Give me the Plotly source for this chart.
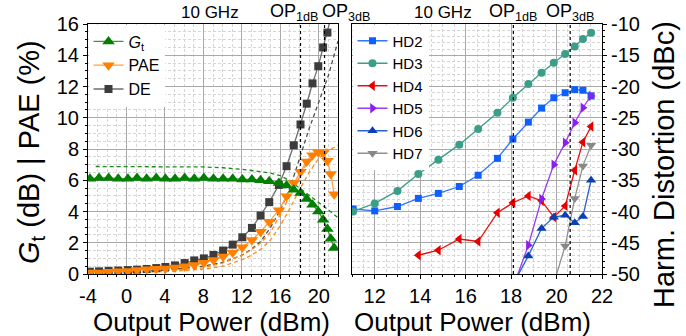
import plotly.graph_objects as go

# ---------------- data (left panel) ----------------
pout = [-3.8, -2.85, -1.85, -0.85, 0.15, 1.1, 2.1, 3.1, 4.05, 5.05, 6.05, 7.05, 8.05, 9.05, 10.05,
        11.05, 12.05, 13.05, 13.95, 14.85, 15.85, 16.65, 17.4, 18.1, 18.75, 19.35, 19.95, 20.45,
        20.9, 21.25, 21.6]
gt = [6.1, 6.15, 6.15, 6.1, 6.1, 6.15, 6.1, 6.15, 6.1, 6.1, 6.15, 6.1, 6.15, 6.1, 6.1,
      6.1, 6.05, 6.05, 6.0, 5.94, 5.83, 5.66, 5.4, 5.19, 4.8, 4.44, 4.0, 3.48, 2.88, 2.26, 1.67]
pae = [0.1, 0.1, 0.15, 0.18, 0.2, 0.25, 0.3, 0.33, 0.36, 0.42, 0.49, 0.57, 0.72, 0.9, 1.12,
       1.38, 1.72, 2.18, 2.7, 3.35, 4.08, 4.97, 5.83, 6.55, 7.2, 7.6, 7.8, 7.75, 7.25, 6.4, 5.1]
de = [0.15, 0.17, 0.2, 0.22, 0.25, 0.28, 0.32, 0.38, 0.45, 0.55, 0.7, 0.87, 1.0, 1.22, 1.5,
      1.88, 2.35, 2.95, 3.74, 4.6, 5.7, 6.9, 8.24, 9.57, 10.9, 12.2, 13.3, 14.5, 15.45, 16.4, 17.2]

# simulated curves (dashed)
gt_sim_x = [-3.2, 0, 4, 8, 10, 12, 14, 15, 16, 17, 18, 19, 20, 21, 22]
gt_sim_y = [6.88, 6.88, 6.87, 6.85, 6.8, 6.7, 6.55, 6.45, 6.3, 5.95, 5.5, 5.05, 4.55, 4.1, 3.6]
de_sim_x = [-4, 4, 8, 10, 12, 13, 14, 15, 16, 17, 18, 19, 20, 21, 22]
de_sim_y = [0.1, 0.25, 0.5, 0.75, 1.2, 1.6, 2.1, 3.0, 4.1, 5.5, 7.4, 9.3, 11.0, 12.7, 14.9]
pae_sim1_x = [-4, 4, 8, 10, 12, 13, 14, 15, 16, 17, 18, 19, 20, 21]
pae_sim1_y = [0.05, 0.2, 0.4, 0.7, 1.2, 1.55, 2.0, 2.7, 3.8, 5.0, 6.3, 7.4, 7.9, 8.0]
pae_sim2_x = [-4, 4, 8, 10, 12, 13, 14, 15, 16, 17, 18, 19, 20, 21, 22]
pae_sim2_y = [0.05, 0.15, 0.3, 0.5, 0.9, 1.2, 1.6, 2.2, 3.1, 4.2, 5.4, 6.5, 7.4, 7.9, 8.25]

# ---------------- data (right panel) ----------------
hd_p = [11.05, 12.0, 13.0, 13.92, 14.8, 15.72, 16.55, 17.4, 18.08, 18.76, 19.34, 19.88,
        20.38, 20.8, 21.16, 21.52]
hd2 = [-39.6, -39.9, -39.2, -37.9, -37.1, -36.0, -34.2, -31.5, -28.4, -25.7, -23.45, -21.8,
       -21.0, -20.5, -20.6, -21.5]
hd3 = [-40.0, -38.7, -36.7, -34.0, -31.7, -29.3, -26.8, -24.2, -21.8, -19.6, -17.8, -16.2,
       -14.8, -13.6, -12.4, -11.4]
hd4 = [None, None, None, -47.0, -46.2, -44.4, -44.8, -40.2, -38.6, -37.5, -38.3, -40.9,
       -39.1, -33.4, -28.9, -26.4]
hd5 = [None, None, None, None, None, None, None, None, -52.2, -45.4, -38.0, -32.5,
       -29.0, -25.8, -23.4, -21.5]
hd6 = [None, None, None, None, None, None, None, None, -51.7, -47.1, -42.7, -40.9,
       -40.6, -41.8, -40.8, -35.0]
hd7 = [None, None, None, None, None, None, None, None, None, None, None, -51.5,
       -45.5, -37.9, -32.7, -29.4]

# tick labels
left_xticks = [-4, 0, 4, 8, 12, 16, 20]
left_xlabels = ["-4", "0", "4", "8", "12", "16", "20"]
right_yticks = [-50, -45, -40, -35, -30, -25, -20, -15, -10]
right_ylabels = ["-50", "-45", "-40", "-35", "-30", "-25", "-20", "-15", "-10"]

op1db = 18.1
op3db = 20.6

FONT = "Liberation Sans, Arial, Helvetica, sans-serif"
W, H = 686, 336

fig = go.Figure()

# simulated dashed lines
fig.add_trace(go.Scatter(x=gt_sim_x, y=gt_sim_y, mode="lines", showlegend=False,
                         line=dict(color="#1a8a1a", width=1.3, dash="4px,3px"), xaxis="x", yaxis="y"))
fig.add_trace(go.Scatter(x=de_sim_x, y=de_sim_y, mode="lines", showlegend=False,
                         line=dict(color="#505050", width=1.3, dash="4px,3px"), xaxis="x", yaxis="y"))
fig.add_trace(go.Scatter(x=pae_sim1_x, y=pae_sim1_y, mode="lines", showlegend=False,
                         line=dict(color="#ff8c1a", width=1.3, dash="4px,3px"), xaxis="x", yaxis="y"))
fig.add_trace(go.Scatter(x=pae_sim2_x, y=pae_sim2_y, mode="lines", showlegend=False,
                         line=dict(color="#ff8c1a", width=1.3, dash="4px,3px"), xaxis="x", yaxis="y"))

# measured
fig.add_trace(go.Scatter(x=pout, y=de, mode="lines+markers", name="DE", legendrank=3,
                         line=dict(color="#6e6e6e", width=1.3),
                         marker=dict(symbol="square", size=8, color="#3c3c3c"),
                         xaxis="x", yaxis="y", legend="legend"))
fig.add_trace(go.Scatter(x=pout, y=pae, mode="lines+markers", name="PAE", legendrank=2,
                         line=dict(color="#ffa040", width=1.3),
                         marker=dict(symbol="triangle-down", size=11, color="#ff8000"),
                         xaxis="x", yaxis="y", legend="legend"))
fig.add_trace(go.Scatter(x=pout, y=gt, mode="lines+markers", name="<i>G</i><sub>t</sub>",
                         legendrank=1,
                         line=dict(color="#3c9a3c", width=1.3),
                         marker=dict(symbol="triangle-up", size=11, color="#007f00"),
                         xaxis="x", yaxis="y", legend="legend"))

hd_series = [
    ("HD2", hd2, "#2f75ff", "#0f5fff", "square", 7),
    ("HD3", hd3, "#3a9e88", "#3a9e88", "circle", 8),
    ("HD4", hd4, "#e81010", "#e60000", "triangle-left", 9),
    ("HD5", hd5, "#9a3cf0", "#8c1ef0", "triangle-right", 9),
    ("HD6", hd6, "#2a62d0", "#0a3fb5", "triangle-up", 9),
    ("HD7", hd7, "#909090", "#888888", "triangle-down", 9),
]
for i, (nm, ys, lc, mc, sym, sz) in enumerate(hd_series):
    fig.add_trace(go.Scatter(x=hd_p, y=ys, mode="lines+markers", name=nm, legendrank=i + 1,
                             line=dict(color=lc, width=1.3),
                             marker=dict(symbol=sym, size=sz, color=mc),
                             xaxis="x2", yaxis="y2", legend="legend2"))

ydom = [1 - 274 / H, 1 - 24 / H]
grid_major = "#a9a9a9"
grid_minor = "#d6d6d6"

def ax(domain, rng, dtick, tick0, mdtick, anchor):
    return dict(domain=domain, range=rng, dtick=dtick, tick0=tick0, anchor=anchor,
                automargin=False,
                showgrid=True, gridcolor=grid_major, gridwidth=1.4, zeroline=False,
                showline=True, linecolor="black", linewidth=1, mirror=True,
                ticks="outside", ticklen=4, tickcolor="black",
                tickfont=dict(family=FONT, size=20, color="black"),
                minor=dict(dtick=mdtick, showgrid=True, gridcolor=grid_minor,
                           griddash="3px,2px", gridwidth=1, ticks="outside", ticklen=2,
                           tickcolor="black"))

xa1 = ax([88 / W, 338 / W], [-4, 22], 4, -4, 1, "y")
xa1.update(tickmode="array", tickvals=left_xticks, ticktext=left_xlabels)
ya2 = ax(ydom, [-50, -10], 5, -50, 1, "x2")
ya2.update(side="right", tickmode="array", tickvals=right_yticks, ticktext=right_ylabels)

fig.update_layout(
    width=W, height=H, margin=dict(l=0, r=0, t=0, b=0, autoexpand=False),
    paper_bgcolor="white", plot_bgcolor="white",
    font=dict(family=FONT, color="black"),
    xaxis=xa1,
    yaxis=dict(ax(ydom, [0, 16], 2, 0, 0.5, "x"), side="left"),
    xaxis2=ax([352 / W, 602 / W], [11, 22], 2, 12, 0.5, "y2"),
    yaxis2=ya2,
    legend=dict(x=88.5 / W, y=1 - 24.5 / H, xanchor="left", yanchor="top", bgcolor="white",
                borderwidth=0, font=dict(family=FONT, size=16, color="black"),
                tracegroupgap=0, itemwidth=30),
    legend2=dict(x=352.5 / W, y=1 - 24.5 / H, xanchor="left", yanchor="top", bgcolor="white",
                 borderwidth=0, font=dict(family=FONT, size=15, color="black"),
                 tracegroupgap=0, itemwidth=30),
)

# OP lines
for xr, yr in (("x", "y"), ("x2", "y2")):
    for v in (op1db, op3db):
        fig.add_shape(type="line", xref=xr, yref=yr + " domain", x0=v, x1=v, y0=0, y1=1,
                      line=dict(color="black", width=1.2, dash="dot"))

ann = []
def A(text, x, y, size, xref="paper", xanchor="center", angle=0, yanchor="middle"):
    ann.append(dict(text=text, x=x, y=y, xref=xref, yref="paper", showarrow=False,
                    xanchor=xanchor, yanchor=yanchor, textangle=angle, borderpad=0,
                    font=dict(family=FONT, size=size, color="black")))

A("10 GHz", 210 / W, 1 - 13 / H, 17)
A("10 GHz", 443 / W, 1 - 13 / H, 17)
A("OP<sub>1dB</sub>", 318.5 / W, 1 - 13 / H, 18, xanchor="right")
A("OP<sub>3dB</sub>", 320.5 / W, 1 - 13 / H, 18, xanchor="left")
A("OP<sub>1dB</sub>", op1db, 1 - 13 / H, 18, xref="x2")
A("OP<sub>3dB</sub>", op3db, 1 - 13 / H, 18, xref="x2")
A("Output Power (dBm)", 211 / W, -0.006, 26, yanchor="bottom")
A("Output Power (dBm)", 473 / W, -0.006, 26, yanchor="bottom")
A("<i>G</i><sub>t</sub> (dB) | PAE (%)", 31 / W, 1 - 152 / H, 29, angle=-90)
A("Harm. Distortion (dBc)", 664 / W, 1 - 165 / H, 29, angle=-90)
fig.update_layout(annotations=ann)

fig.write_html("out.html")
